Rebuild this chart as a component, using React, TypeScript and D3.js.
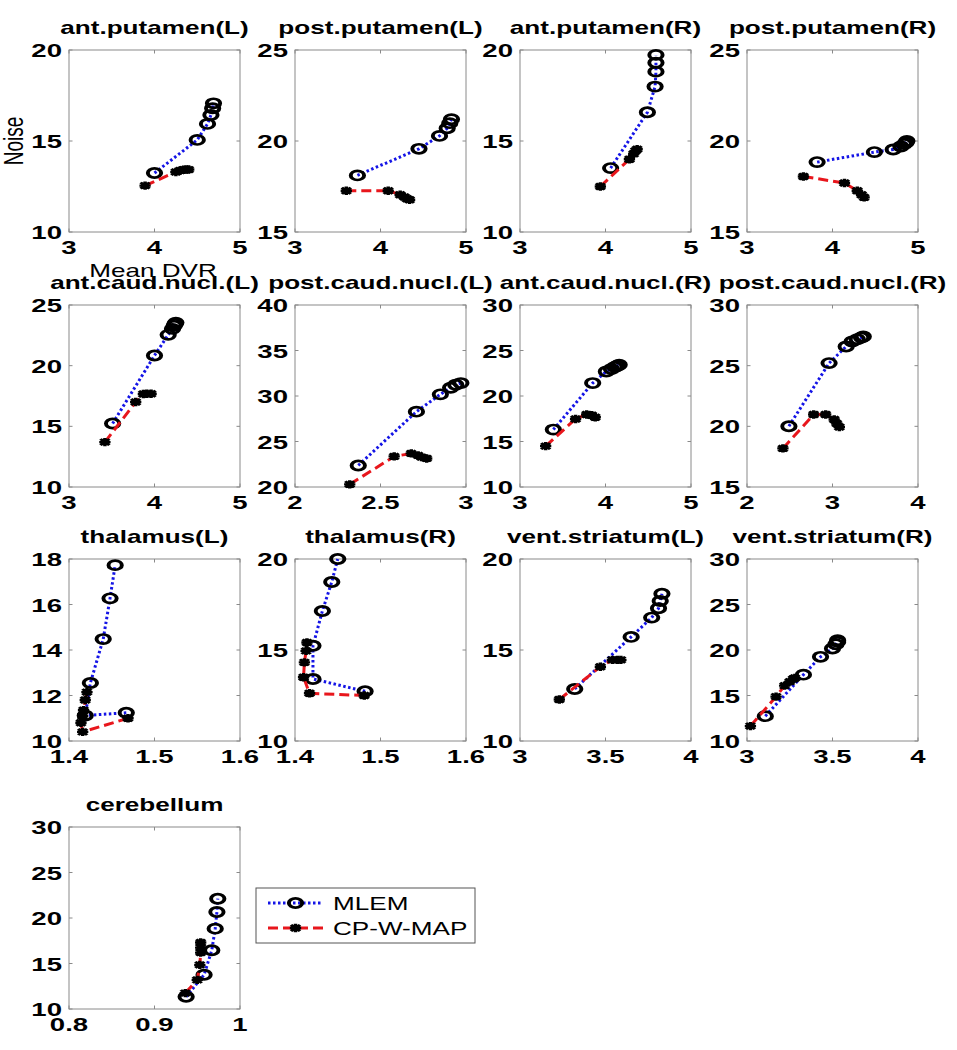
import React from 'react';
import * as d3 from 'd3';

// ---------- data ----------
const titles = [
  'ant.putamen(L)', 'post.putamen(L)', 'ant.putamen(R)', 'post.putamen(R)',
  'ant.caud.nucl.(L)', 'post.caud.nucl.(L)', 'ant.caud.nucl.(R)', 'post.caud.nucl.(R)',
  'thalamus(L)', 'thalamus(R)', 'vent.striatum(L)', 'vent.striatum(R)',
  'cerebellum',
];

const xDomains: [number, number][] = [
  [3, 5], [3, 5], [3, 5], [3, 5],
  [3, 5], [2, 3], [3, 5], [2, 4],
  [1.4, 1.6], [1.4, 1.6], [3, 4], [3, 4],
  [0.8, 1],
];
const yDomains: [number, number][] = [
  [10, 20], [15, 25], [10, 20], [15, 25],
  [10, 25], [20, 40], [10, 30], [15, 30],
  [10, 18], [10, 20], [10, 20], [10, 30],
  [10, 30],
];
const xTicks: number[][] = [
  [3, 4, 5], [3, 4, 5], [3, 4, 5], [3, 4, 5],
  [3, 4, 5], [2, 2.5, 3], [3, 4, 5], [2, 3, 4],
  [1.4, 1.5, 1.6], [1.4, 1.5, 1.6], [3, 3.5, 4], [3, 3.5, 4],
  [0.8, 0.9, 1],
];
const yTicks: number[][] = [
  [10, 15, 20], [15, 20, 25], [10, 15, 20], [15, 20, 25],
  [10, 15, 20, 25], [20, 25, 30, 35, 40], [10, 15, 20, 25, 30], [15, 20, 25, 30],
  [10, 12, 14, 16, 18], [10, 15, 20], [10, 15, 20], [10, 15, 20, 25, 30],
  [10, 15, 20, 25, 30],
];

const antPutamenL_MLEM = [[4.0, 13.24], [4.5, 15.06], [4.62, 15.94], [4.66, 16.43], [4.68, 16.8], [4.69, 17.07]];
const antPutamenL_CP = [[3.89, 12.55], [4.25, 13.3], [4.3, 13.38], [4.34, 13.42], [4.37, 13.43], [4.4, 13.43]];
const postPutamenL_MLEM = [[3.73, 18.11], [4.45, 19.57], [4.69, 20.28], [4.78, 20.7], [4.81, 20.98], [4.83, 21.2]];
const postPutamenL_CP = [[3.6, 17.27], [4.09, 17.27], [4.23, 17.05], [4.28, 16.92], [4.31, 16.83], [4.34, 16.77]];
const antPutamenR_MLEM = [[4.06, 13.51], [4.49, 16.58], [4.58, 17.99], [4.59, 18.81], [4.59, 19.3], [4.59, 19.73]];
const antPutamenR_CP = [[3.94, 12.5], [4.28, 14.0], [4.33, 14.3], [4.35, 14.46], [4.37, 14.55]];
const postPutamenR_MLEM = [[3.82, 18.84], [4.49, 19.39], [4.71, 19.53], [4.8, 19.7], [4.84, 19.83], [4.86, 19.92], [4.87, 20.0]];
const postPutamenR_CP = [[3.66, 18.05], [4.14, 17.69], [4.29, 17.27], [4.34, 17.05], [4.37, 16.9]];
const antCaudL_MLEM = [[3.51, 15.23], [4.0, 20.84], [4.16, 22.54], [4.21, 23.03], [4.23, 23.28], [4.24, 23.44], [4.25, 23.55]];
const antCaudL_CP = [[3.42, 13.7], [3.78, 17.0], [3.87, 17.66], [3.91, 17.69], [3.96, 17.69]];
const postCaudL_MLEM = [[2.37, 22.37], [2.71, 28.28], [2.85, 30.18], [2.91, 30.91], [2.94, 31.24], [2.97, 31.42]];
const postCaudL_CP = [[2.32, 20.29], [2.58, 23.36], [2.68, 23.69], [2.72, 23.47], [2.74, 23.28], [2.77, 23.14]];
const antCaudR_MLEM = [[3.39, 16.31], [3.85, 21.42], [4.01, 22.7], [4.07, 22.96], [4.11, 23.18], [4.14, 23.32], [4.16, 23.43]];
const antCaudR_CP = [[3.3, 14.49], [3.65, 17.48], [3.78, 17.96], [3.84, 17.88], [3.88, 17.66]];
const postCaudR_MLEM = [[2.49, 20.01], [2.96, 25.21], [3.16, 26.58], [3.23, 26.99], [3.29, 27.18], [3.34, 27.32], [3.36, 27.4]];
const postCaudR_CP = [[2.42, 18.18], [2.78, 20.97], [2.92, 20.97], [3.02, 20.56], [3.05, 20.23], [3.08, 19.95]];
const thalamusL_MLEM = [[1.467, 11.24], [1.419, 11.12], [1.425, 12.55], [1.44, 14.48], [1.448, 16.27], [1.454, 17.73]];
const thalamusL_CP = [[1.469, 11.0], [1.416, 10.4], [1.414, 10.8], [1.416, 11.1], [1.417, 11.35], [1.419, 11.8], [1.421, 12.15]];
const thalamusR_MLEM = [[1.482, 12.73], [1.421, 13.41], [1.421, 15.23], [1.432, 17.14], [1.443, 18.74], [1.45, 20.0]];
const thalamusR_CP = [[1.481, 12.5], [1.417, 12.62], [1.41, 13.5], [1.411, 14.32], [1.413, 14.95], [1.414, 15.41]];
const ventStrL_MLEM = [[3.32, 12.86], [3.65, 15.72], [3.77, 16.78], [3.81, 17.29], [3.82, 17.69], [3.83, 18.09]];
const ventStrL_CP = [[3.23, 12.28], [3.47, 14.08], [3.54, 14.46], [3.57, 14.46], [3.59, 14.46]];
const ventStrR_MLEM = [[3.107, 12.73], [3.33, 17.29], [3.43, 19.25], [3.5, 20.16], [3.52, 20.64], [3.53, 20.89], [3.53, 21.07]];
const ventStrR_CP = [[3.02, 11.64], [3.17, 14.88], [3.22, 16.08], [3.25, 16.52], [3.27, 16.81], [3.28, 16.92]];
const cerebellum_MLEM = [[0.937, 11.35], [0.958, 13.76], [0.967, 16.46], [0.971, 18.83], [0.973, 20.66], [0.974, 22.12]];
const cerebellum_CP = [[0.936, 11.75], [0.95, 13.2], [0.953, 14.85], [0.954, 16.2], [0.954, 16.75], [0.954, 17.3]];

const mlemSeries = [
  antPutamenL_MLEM, postPutamenL_MLEM, antPutamenR_MLEM, postPutamenR_MLEM,
  antCaudL_MLEM, postCaudL_MLEM, antCaudR_MLEM, postCaudR_MLEM,
  thalamusL_MLEM, thalamusR_MLEM, ventStrL_MLEM, ventStrR_MLEM, cerebellum_MLEM,
];
const cpSeries = [
  antPutamenL_CP, postPutamenL_CP, antPutamenR_CP, postPutamenR_CP,
  antCaudL_CP, postCaudL_CP, antCaudR_CP, postCaudR_CP,
  thalamusL_CP, thalamusR_CP, ventStrL_CP, ventStrR_CP, cerebellum_CP,
];
const legendLabels = ['MLEM', 'CP-W-MAP'];
const xLabel = 'Mean DVR';
const yLabel = 'Noise';

// ---------- layout / style ----------
const W = 957;
const H = 1050;
const SX = 1.45; // horizontal stretch of the original raster
const FONT = '"Liberation Sans", Arial, Helvetica, sans-serif';
const colLefts = [69, 295, 520, 747];
const rowTops = [50, 305, 559, 827];
const PW = 171;
const PH = 182;
const BLUE = '#1414e6';
const RED = '#e8161c';
const AXIS = '#8a8a8a';

function SText({ x, y, anchor = 'middle', size = 18, weight = 'normal', rotate = 0, children }: any) {
  return (
    <text
      transform={`translate(${x},${y}) scale(${SX},1)${rotate ? ` rotate(${rotate})` : ''}`}
      textAnchor={anchor}
      fontFamily={FONT}
      fontSize={size}
      fontWeight={weight}
      fill="#000"
    >
      {children}
    </text>
  );
}

function CircleMarker({ x, y }: { x: number; y: number }) {
  return (
    <g transform={`translate(${x},${y}) scale(${SX},1)`}>
      <circle r={4.6} fill="none" stroke="#000" strokeWidth={2.7} />
    </g>
  );
}

function StarMarker({ x, y }: { x: number; y: number }) {
  return (
    <g transform={`translate(${x},${y}) scale(${SX},1)`}>
      <path d="M-3.9,0H3.9M0,-4.2V4.2M-3.1,-3.1L3.1,3.1M-3.1,3.1L3.1,-3.1" stroke="#000" strokeWidth={2.4} fill="none" />
    </g>
  );
}

function Panel({ i }: { i: number }) {
  const row = Math.floor(i / 4);
  const col = i % 4;
  const left = colLefts[col];
  const top = rowTops[row];
  const x = d3.scaleLinear().domain(xDomains[i]).range([left, left + PW]);
  const y = d3.scaleLinear().domain(yDomains[i]).range([top + PH, top]);
  const line = d3
    .line<number[]>()
    .x((d) => x(d[0]))
    .y((d) => y(d[1]));
  const tl = 3.5;
  return (
    <g>
      <rect x={left} y={top} width={PW} height={PH} fill="#fff" stroke={AXIS} strokeWidth={1} />
      {xTicks[i].map((t) => (
        <g key={'xt' + t}>
          <line x1={x(t)} x2={x(t)} y1={top + PH} y2={top + PH - tl} stroke={AXIS} />
          <line x1={x(t)} x2={x(t)} y1={top} y2={top + tl} stroke={AXIS} />
          <SText x={x(t)} y={top + PH + 22} size={19} weight="bold">
            {String(t)}
          </SText>
        </g>
      ))}
      {yTicks[i].map((t) => (
        <g key={'yt' + t}>
          <line x1={left} x2={left + tl} y1={y(t)} y2={y(t)} stroke={AXIS} />
          <line x1={left + PW} x2={left + PW - tl} y1={y(t)} y2={y(t)} stroke={AXIS} />
          <SText x={left - 7} y={y(t) + 7} size={19} weight="bold" anchor="end">
            {String(t)}
          </SText>
        </g>
      ))}
      <SText x={left + PW / 2} y={top - 16} size={18} weight="bold">
        {titles[i]}
      </SText>
      <path d={line(mlemSeries[i]) || ''} fill="none" stroke={BLUE} strokeWidth={3} strokeDasharray="2.5,2.5" />
      {mlemSeries[i].map((d, k) => (
        <CircleMarker key={'m' + k} x={x(d[0])} y={y(d[1])} />
      ))}
      <path d={line(cpSeries[i]) || ''} fill="none" stroke={RED} strokeWidth={3} strokeDasharray="10,5" />
      {cpSeries[i].map((d, k) => (
        <StarMarker key={'c' + k} x={x(d[0])} y={y(d[1])} />
      ))}
    </g>
  );
}

export default function App() {
  const lgX = 256;
  const lgY = 888;
  const lgW = 219;
  const lgH = 55;
  const rows = [lgY + 15, lgY + 40];
  return (
    <svg width={W} height={H} style={{ position: 'absolute', left: 0, top: 0, background: '#fff' }}>
      <rect width={W} height={H} fill="#fff" />
      {titles.map((_, i) => (
        <Panel key={i} i={i} />
      ))}
      <SText x={153} y={277} size={18}>
        {xLabel}
      </SText>
      <SText x={23} y={141} size={19} rotate={-90}>
        {yLabel}
      </SText>
      <g>
        <rect x={lgX} y={lgY} width={lgW} height={lgH} fill="#fff" stroke="#555" strokeWidth={1} />
        <line x1={268} x2={323} y1={rows[0]} y2={rows[0]} stroke={BLUE} strokeWidth={3} strokeDasharray="2.5,2.5" />
        <CircleMarker x={295.5} y={rows[0]} />
        <SText x={333} y={rows[0] + 7} size={18} anchor="start">
          {legendLabels[0]}
        </SText>
        <line x1={268} x2={323} y1={rows[1]} y2={rows[1]} stroke={RED} strokeWidth={3} strokeDasharray="10,5" />
        <StarMarker x={295.5} y={rows[1]} />
        <SText x={333} y={rows[1] + 7} size={18} anchor="start">
          {legendLabels[1]}
        </SText>
      </g>
    </svg>
  );
}
